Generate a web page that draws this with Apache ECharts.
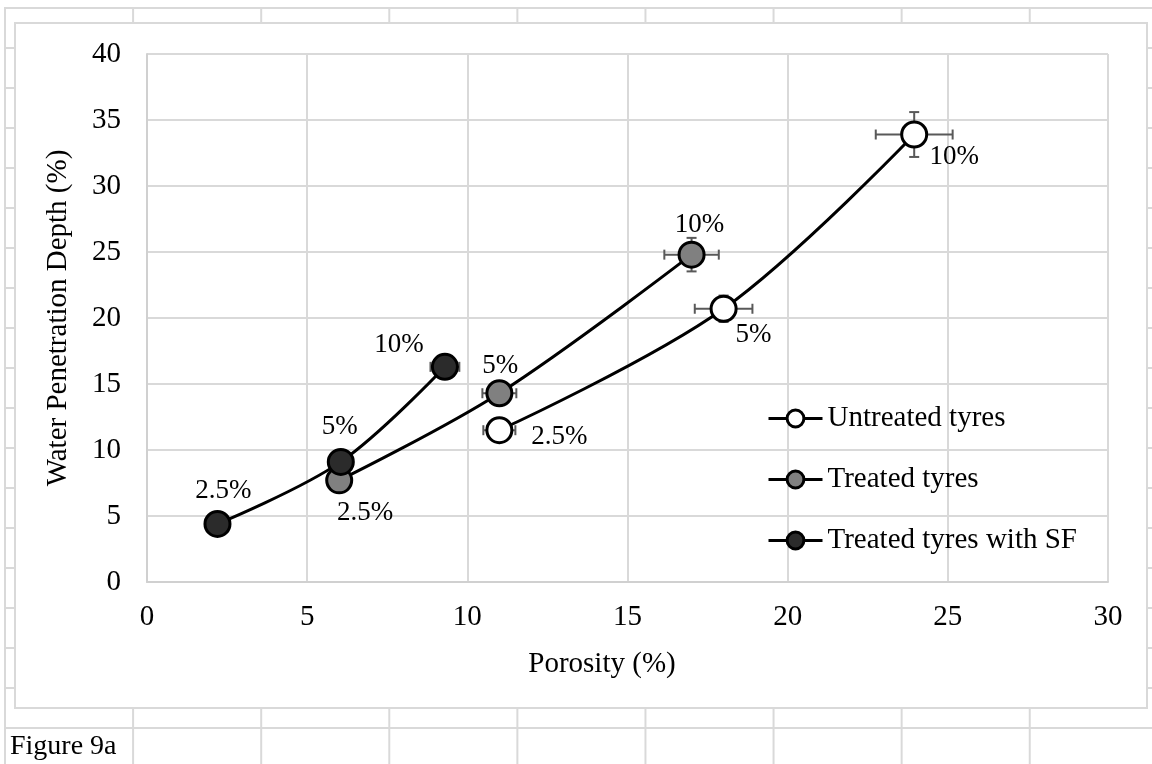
<!DOCTYPE html>
<html>
<head>
<meta charset="utf-8">
<script src="https://cdn.jsdelivr.net/npm/echarts@6/dist/echarts.min.js"></script>
<style>
  html, body { margin: 0; padding: 0; background: #ffffff; }
  #sheet {
    position: absolute; left: 4px; top: 7px; width: 1148px; height: 757px;
    background-image:
      linear-gradient(to right, #d9d9d9 0, #d9d9d9 2px, transparent 2px),
      linear-gradient(to bottom, #d9d9d9 0, #d9d9d9 2px, transparent 2px);
    background-size: 128.1px 40px;
    background-position: 0 0;
  }
  #frame {
    position: absolute; left: 14px; top: 22px; width: 1130px; height: 683px;
    border: 2px solid #d9d9d9; background: #ffffff;
  }
  #chart { position: absolute; left: 0; top: 0; width: 1152px; height: 764px; }
</style>
</head>
<body>
<div id="sheet"></div>
<div id="frame"></div>
<div id="chart"></div>
<script>
// ---- Data ----
const seriesNames = ['Untreated tyres', 'Treated tyres', 'Treated tyres with SF'];
const pointLabels = ['2.5%', '5%', '10%'];

const untreatedPorosity = [11.0, 18.0, 23.95];
const untreatedDepth    = [11.5, 20.7, 33.9];
const untreatedPorErr   = [0.5, 0.9, 1.2];
const untreatedDepthErr = [0.4, 1.0, 1.7];

const treatedPorosity = [6.0, 11.0, 17.0];
const treatedDepth    = [7.7, 14.3, 24.8];
const treatedPorErr   = [0.2, 0.53, 0.85];
const treatedDepthErr = [0.3, 0.4, 1.27];

const sfPorosity = [2.2, 6.05, 9.3];
const sfDepth    = [4.4, 9.1, 16.3];
const sfPorErr   = [0.2, 0.2, 0.45];
const sfDepthErr = [0.3, 0.4, 0.5];

const xTicks = [0, 5, 10, 15, 20, 25, 30];
const yTicks = [0, 5, 10, 15, 20, 25, 30, 35, 40];

// ---- Layout / style (not data) ----
const FONT = "'Liberation Serif', 'Times New Roman', serif";
const markerFill = ['#ffffff', '#808080', '#2b2b2b'];
const labelOffsets = [
  [[60, 7], [30, 26], [40, 22]],
  [[26, 33], [1, -27], [8, -30]],
  [[6, -33], [-1, -35], [-46, -22]]
];

const groups = [
  { x: untreatedPorosity, y: untreatedDepth, ex: untreatedPorErr, ey: untreatedDepthErr },
  { x: treatedPorosity, y: treatedDepth, ex: treatedPorErr, ey: treatedDepthErr },
  { x: sfPorosity, y: sfDepth, ex: sfPorErr, ey: sfDepthErr }
];

function errorRender(params, api) {
  const x = api.value(0), y = api.value(1), ex = api.value(2), ey = api.value(3);
  const c = api.coord([x, y]);
  const l = api.coord([x - ex, y]), r = api.coord([x + ex, y]);
  const t = api.coord([x, y + ey]), b = api.coord([x, y - ey]);
  const cap = 5;
  const st = { stroke: '#595959', lineWidth: 2 };
  return {
    type: 'group',
    children: [
      { type: 'line', shape: { x1: l[0], y1: c[1], x2: r[0], y2: c[1] }, style: st },
      { type: 'line', shape: { x1: l[0], y1: c[1] - cap, x2: l[0], y2: c[1] + cap }, style: st },
      { type: 'line', shape: { x1: r[0], y1: c[1] - cap, x2: r[0], y2: c[1] + cap }, style: st },
      { type: 'line', shape: { x1: c[0], y1: t[1], x2: c[0], y2: b[1] }, style: st },
      { type: 'line', shape: { x1: c[0] - cap, y1: t[1], x2: c[0] + cap, y2: t[1] }, style: st },
      { type: 'line', shape: { x1: c[0] - cap, y1: b[1], x2: c[0] + cap, y2: b[1] }, style: st }
    ]
  };
}

const series = [];
groups.forEach((g, gi) => {
  series.push({
    type: 'custom',
    name: seriesNames[gi] + ' error',
    renderItem: errorRender,
    encode: { x: 0, y: 1 },
    data: g.x.map((v, i) => [v, g.y[i], g.ex[i], g.ey[i]]),
    z: 1,
    silent: true
  });
});
groups.forEach((g, gi) => {
  series.push({
    type: 'line',
    name: seriesNames[gi],
    smooth: 0.35,
    symbol: 'circle',
    symbolSize: 25,
    z: 3 + gi,
    lineStyle: { color: '#000000', width: 3 },
    itemStyle: { color: markerFill[gi], borderColor: '#000000', borderWidth: 3 },
    label: {
      show: true,
      position: 'inside',
      fontFamily: FONT,
      fontSize: 27,
      color: '#000000',
      formatter: (p) => pointLabels[p.dataIndex]
    },
    emphasis: { disabled: true },
    data: g.x.map((v, i) => ({
      value: [v, g.y[i]],
      label: { offset: labelOffsets[gi][i] }
    }))
  });
});

const chart = echarts.init(document.getElementById('chart'), null, { renderer: 'canvas' });
chart.setOption({
  backgroundColor: 'transparent',
  animation: false,
  grid: { left: 147, top: 54, width: 961, height: 528, containLabel: false },
  xAxis: {
    type: 'value',
    min: xTicks[0], max: xTicks[xTicks.length - 1], interval: 5,
    name: 'Porosity (%)',
    nameLocation: 'middle',
    nameGap: 68,
    nameTextStyle: { fontFamily: FONT, fontSize: 29, color: '#000000', padding: [0, 51, 0, 0] },
    axisLine: { show: true, lineStyle: { color: '#d0d0d0', width: 2 } },
    axisTick: { show: false },
    axisLabel: { fontFamily: FONT, fontSize: 29, color: '#000000', margin: 21 },
    splitLine: { show: true, lineStyle: { color: '#d9d9d9', width: 2 } }
  },
  yAxis: {
    type: 'value',
    min: yTicks[0], max: yTicks[yTicks.length - 1], interval: 5,
    name: 'Water Penetration Depth (%)',
    nameLocation: 'middle',
    nameGap: 74,
    nameRotate: 90,
    nameTextStyle: { fontFamily: FONT, fontSize: 29, color: '#000000' },
    axisLine: { show: true, lineStyle: { color: '#d0d0d0', width: 2 } },
    axisTick: { show: false },
    axisLabel: { fontFamily: FONT, fontSize: 29, color: '#000000', margin: 26 },
    splitLine: { show: true, lineStyle: { color: '#d9d9d9', width: 2 } }
  },
  legend: {
    data: seriesNames,
    orient: 'vertical',
    left: 762,
    top: 399,
    itemWidth: 54,
    itemHeight: 21,
    itemGap: 32,
    selectedMode: false,
    itemStyle: { borderWidth: 3, borderColor: '#000000' },
    lineStyle: { width: 3, color: '#000000' },
    textStyle: { fontFamily: FONT, fontSize: 29, color: '#000000' }
  },
  graphic: [{
    type: 'text',
    left: 10,
    top: 733,
    style: { text: 'Figure 9a', fontFamily: FONT, fontSize: 28, fill: '#000000' }
  }],
  series: series
});
</script>
</body>
</html>
